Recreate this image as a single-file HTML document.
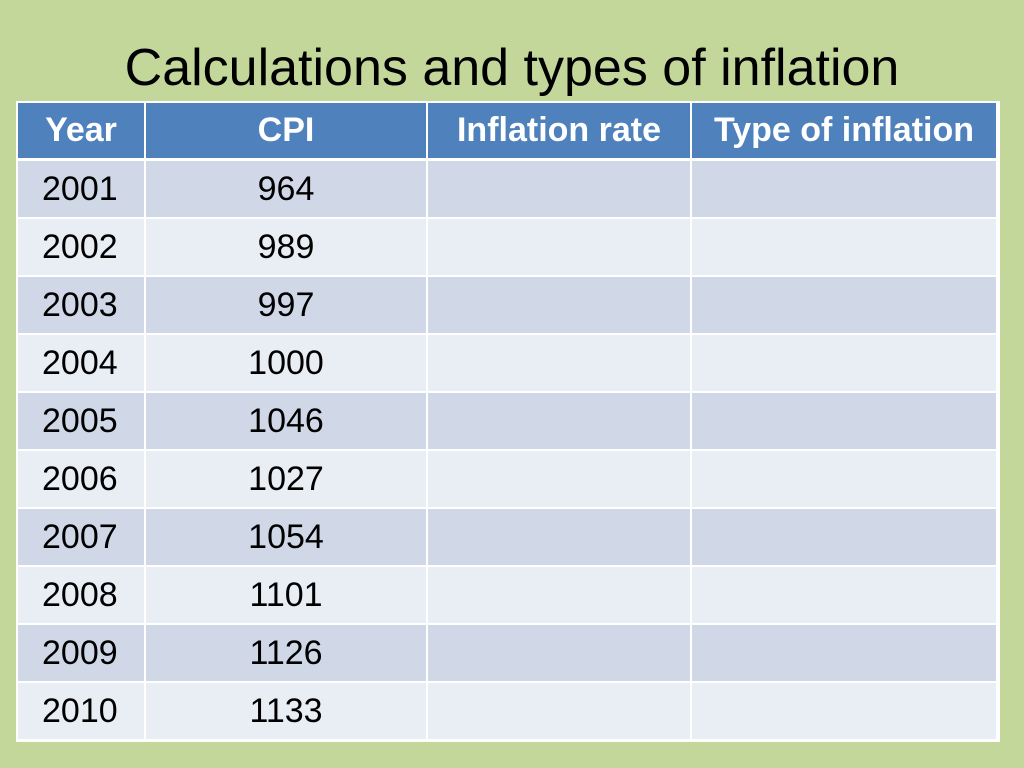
<!DOCTYPE html>
<html><head><meta charset="utf-8"><style>
body{margin:0;width:1024px;height:768px;background:#c4d79b;font-family:"Liberation Sans",sans-serif;position:relative;overflow:hidden}
#title{position:absolute;left:0;width:1024px;top:38px;text-align:center;font-size:52px;color:#000;line-height:60px}
.c{position:absolute;display:flex;align-items:center;justify-content:center;box-sizing:border-box;font-size:34px}
.l{justify-content:flex-start;padding-left:24px}
.h{background:#4f81bd;color:#fff;font-weight:bold;font-size:34px}
.o{background:#d0d8e8}.e{background:#e9edf4}
#tbl{position:absolute;left:16px;top:101px;width:984px;height:641px;background:#fff}
</style></head><body>
<div id="title">Calculations and types of inflation</div>
<div id="tbl"></div>
<script>
const years=[2001,2002,2003,2004,2005,2006,2007,2008,2009,2010];
const cpi=[964,989,997,1000,1046,1027,1054,1101,1126,1133];
const headers=["Year","CPI","Inflation rate","Type of inflation"];
const colX=[18,146,428,692,998];
const t=document.getElementById('tbl');
function cell(x0,x1,y0,y1,cls,txt,name){
 const d=document.createElement('div');
 d.className='c '+cls;
 d.style.left=(x0-16)+'px';d.style.top=(y0-101)+'px';
 d.style.width=(x1-x0-2)+'px';d.style.height=(y1-y0)+'px';
 d.textContent=txt;
 
 
 t.appendChild(d);
}
headers.forEach((h,i)=>cell(colX[i],colX[i+1],103,158,'h',h,'header-'+h.toLowerCase().replace(/ /g,'-')));
years.forEach((y,r)=>{
 const y0=161+58*r, y1=y0+56;
 const cls=r%2?'e':'o';
 const vals=[String(y),String(cpi[r]),'',''];
 vals.forEach((v,i)=>cell(colX[i],colX[i+1],y0,y1,cls+(i===0?' l':''),v,['year','cpi','inflation-rate','inflation-type'][i]+'-cell-'+y));
});
</script>
</body></html>
